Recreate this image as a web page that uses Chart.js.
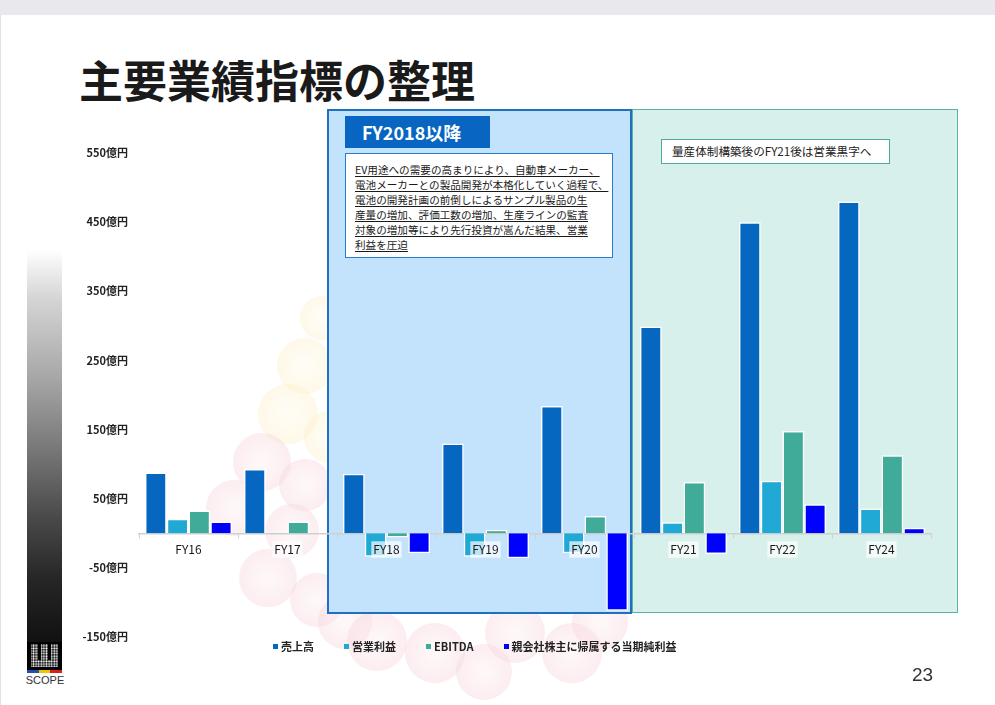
<!DOCTYPE html>
<html>
<head>
<meta charset="utf-8">
<script src="https://cdn.jsdelivr.net/npm/chart.js@4.4.1/dist/chart.umd.min.js"></script>
<style>
  body { margin: 0; background: #fff; font-family: "Noto Sans CJK JP", sans-serif; }
  #page { position: relative; width: 995px; height: 705px; overflow: hidden; background: #fff; }
  .abs { position: absolute; }
  .bub { position: absolute; border-radius: 50%; opacity: 0.45; }
  .pink { background: radial-gradient(circle at 50% 50%, #fdf0f2 0%, #f8d9df 65%, #f3c6cf 100%); }
  .yel { background: radial-gradient(circle at 50% 50%, #fffbec 0%, #fff1cf 65%, #fbe6b8 100%); }
  #legend { position: absolute; left: 273px; top: 638px; display: flex; margin: 0; padding: 0; list-style: none;
            font: bold 11px "Noto Sans CJK JP", sans-serif; color: #222; }
  #legend li { display: flex; align-items: center; margin-right: 30px; height: 16px; }
  #legend li span { display: inline-block; width: 5px; height: 5px; margin-right: 3px; }
  .desc { text-decoration: underline; text-underline-offset: 2px; }
</style>
</head>
<body>
<div id="page">
  <div class="abs" style="left:0;top:0;width:995px;height:15px;background:#e8e8ed"></div>
  <div class="abs" style="left:0;top:15px;width:1px;height:690px;background:#e2e2e6"></div>

  <!-- background bubbles -->
  <div class="bub yel" style="left:300px;top:296px;width:44px;height:44px"></div>
  <div class="bub yel" style="left:277px;top:338px;width:56px;height:56px"></div>
  <div class="bub yel" style="left:258px;top:384px;width:60px;height:60px"></div>
  <div class="bub yel" style="left:304px;top:411px;width:52px;height:52px"></div>
  <div class="bub pink" style="left:233px;top:433px;width:58px;height:58px"></div>
  <div class="bub pink" style="left:279px;top:459px;width:52px;height:52px"></div>
  <div class="bub pink" style="left:206px;top:480px;width:56px;height:56px"></div>
  <div class="bub pink" style="left:265px;top:504px;width:54px;height:54px"></div>
  <div class="bub pink" style="left:239px;top:549px;width:58px;height:58px"></div>
  <div class="bub pink" style="left:290px;top:573px;width:54px;height:54px"></div>
  <div class="bub pink" style="left:318px;top:595px;width:54px;height:54px"></div>
  <div class="bub pink" style="left:347px;top:611px;width:60px;height:60px"></div>
  <div class="bub pink" style="left:405px;top:623px;width:60px;height:60px"></div>
  <div class="bub pink" style="left:456px;top:644px;width:56px;height:56px"></div>
  <div class="bub pink" style="left:485px;top:603px;width:60px;height:60px"></div>
  <div class="bub pink" style="left:542px;top:623px;width:60px;height:60px"></div>
  <div class="bub pink" style="left:572px;top:594px;width:56px;height:56px"></div>

  <!-- left bar with logo -->
  <div class="abs" style="left:27px;top:250px;width:35px;height:392px;background:linear-gradient(to bottom,#ffffff 0%,#d6d6d6 12%,#a8a8a8 32%,#7a7a7a 50%,#4a4a4a 68%,#262626 84%,#111 100%)"></div>
  <div class="abs" style="left:27px;top:642px;width:35px;height:28px;background:#000">
    <svg width="35" height="28">
      <defs>
        <pattern id="dots" width="2.6" height="2.6" patternUnits="userSpaceOnUse">
          <circle cx="1.3" cy="1.3" r="1" fill="#fff"/>
        </pattern>
      </defs>
      <path d="M4 2 H11 V18 H14 V2 H21 V18 H24 V2 H31 V25 H4 Z" fill="url(#dots)"/>
    </svg>
  </div>
  <div class="abs" style="left:27px;top:670px;width:12px;height:3px;background:#1f4fb4"></div>
  <div class="abs" style="left:39px;top:670px;width:11px;height:3px;background:#f3c300"></div>
  <div class="abs" style="left:50px;top:670px;width:12px;height:3px;background:#d81e1e"></div>
  <div class="abs" style="left:20px;top:674px;width:50px;text-align:center;font:11px 'Liberation Sans',sans-serif;color:#333">SCOPE</div>

  <!-- title -->
  <div class="abs" style="left:79px;top:51px;font:bold 44px/56px 'Noto Sans CJK JP',sans-serif;color:#1a1a1a;white-space:nowrap">主要業績指標の整理</div>

  <!-- period boxes -->
  <div class="abs" style="left:327px;top:109px;width:301px;height:501px;background:#c3e2fb;border:2px solid #1f70c1"></div>
  <div class="abs" style="left:632px;top:109px;width:324px;height:502px;background:#d7f0eb;border:1.5px solid #5ab4a3"></div>

  <canvas id="chart" class="abs" width="995" height="705" style="left:0;top:0"></canvas>

  <!-- annotations -->
  <div class="abs" style="left:345px;top:116px;width:145px;height:32px;background:#0866c2;color:#fff;font:bold 18px/32px 'Noto Sans CJK JP',sans-serif;text-indent:17px">FY2018以降</div>
  <div class="abs" style="left:345px;top:153px;width:266px;height:103px;background:#fff;border:1.5px solid #2a7bc8"></div>
  <div class="abs desc" style="left:355px;top:162px;width:262px;font:10.6px/15px 'Noto Sans CJK JP',sans-serif;color:#1a1a1a;white-space:nowrap">
    EV用途への需要の高まりにより、自動車メーカー、<br>
    電池メーカーとの製品開発が本格化していく過程で、<br>
    電池の開発計画の前倒しによるサンプル製品の生<br>
    産量の増加、評価工数の増加、生産ラインの監査<br>
    対象の増加等により先行投資が嵩んだ結果、営業<br>
    利益を圧迫
  </div>
  <div class="abs" style="left:661px;top:139px;width:227px;height:23px;background:#fff;border:1.5px solid #4baa98;font:11.6px/23px 'Noto Sans CJK JP',sans-serif;color:#222;text-indent:10px;white-space:nowrap">量産体制構築後のFY21後は営業黒字へ</div>

  <ul id="legend"></ul>
  <div class="abs" style="left:912px;top:664px;font:19px 'Liberation Sans',sans-serif;color:#333">23</div>
</div>

<script>
const categories = ['FY16', 'FY17', 'FY18', 'FY19', 'FY20', 'FY21', 'FY22', 'FY24']
const seriesNames = ['売上高', '営業利益', 'EBITDA', '親会社株主に帰属する当期純利益']
// 億円
const sales = [88, 93, 86, 130, 184, 299, 450, 480]
const operatingProfit = [21, 1, -34, -34, -29, 16, 76, 36]
const ebitda = [33, 17, -6, 5, 25, 74, 148, 113]
const netIncome = [17, 0, -29, -36, -112, -30, 42, 8]
const yTicks = [-150, -50, 50, 150, 250, 350, 450, 550]
const seriesColors = ['#0567bf', '#21a9d6', '#40ab98', '#0000ff']

const seriesValues = [sales, operatingProfit, ebitda, netIncome]

// legend built from Chart.js legend items
const htmlLegend = {
  id: 'htmlLegend',
  afterUpdate(chart) {
    const ul = document.getElementById('legend')
    ul.innerHTML = ''
    const items = chart.options.plugins.legend.labels.generateLabels(chart)
    items.forEach((item) => {
      const li = document.createElement('li')
      const box = document.createElement('span')
      box.style.background = item.fillStyle
      li.appendChild(box)
      li.appendChild(document.createTextNode(item.text))
      ul.appendChild(li)
    })
  },
}

Chart.defaults.font.family = '"Noto Sans CJK JP", sans-serif'

const ctx = document.getElementById('chart').getContext('2d')
new Chart(ctx, {
  type: 'bar',
  plugins: [htmlLegend],
  data: {
    labels: categories,
    datasets: seriesNames.map((name, i) => ({
      label: name,
      data: seriesValues[i],
      backgroundColor: seriesColors[i],
      borderColor: '#ffffff',
      borderWidth: 1.5,
      categoryPercentage: 0.88,
      barPercentage: 1.0,
    })),
  },
  options: {
    responsive: false,
    animation: false,
    layout: { padding: { left: 60, top: 153, right: 64, bottom: 68 } },
    plugins: {
      legend: { display: false },
      tooltip: { enabled: false },
    },
    scales: {
      x: {
        position: { y: 0 },
        grid: { drawOnChartArea: false, drawTicks: true, tickLength: 4, color: '#d0d0d0' },
        border: { display: true, color: '#d0d0d0', width: 1.5 },
        ticks: {
          z: 1,
          padding: 5,
          color: '#1a1a1a',
          font: { size: 12 },
          showLabelBackdrop: true,
          backdropColor: 'rgba(255,255,255,0.7)',
          backdropPadding: { x: 2, y: 1 },
        },
      },
      y: {
        min: yTicks[0],
        max: yTicks[yTicks.length - 1],
        afterBuildTicks: (scale) => {
          scale.ticks = yTicks.map((v) => ({ value: v }))
        },
        afterFit: (scale) => {
          scale.width = 79
        },
        grid: { display: false, drawTicks: false },
        border: { display: false },
        ticks: {
          padding: 11,
          color: '#222',
          font: { size: 11, weight: 'bold' },
          callback: (v) => v + '億円',
        },
      },
    },
  },
})
</script>
</body>
</html>
